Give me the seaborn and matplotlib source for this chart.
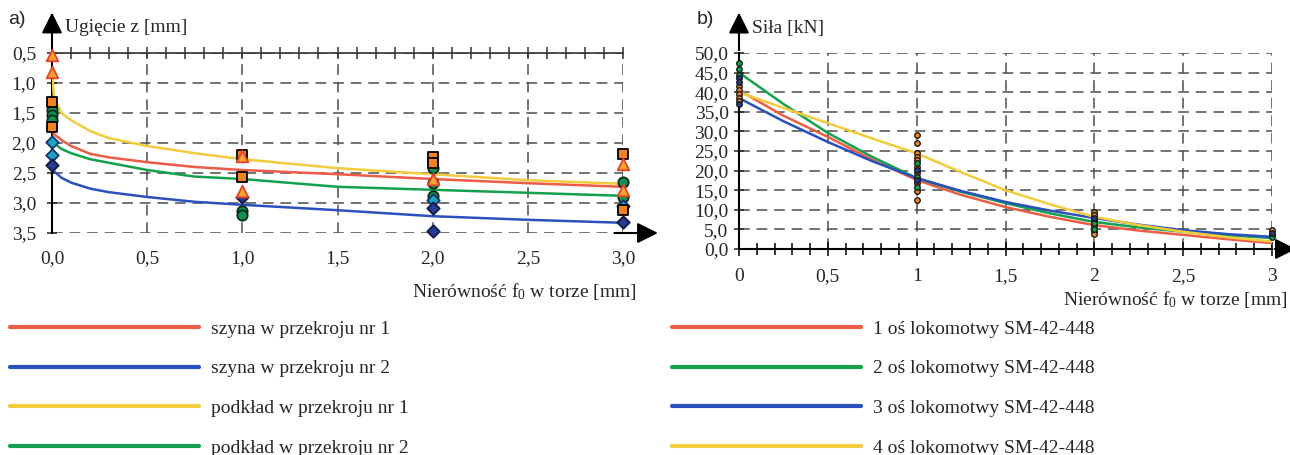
import matplotlib.pyplot as plt
import pandas as pd
import seaborn as sns
from matplotlib.ticker import FixedLocator, MultipleLocator

# a) ugięcie z [mm] w funkcji nierówności f0 [mm]
x_a = [0, 0.01, 0.05, 0.1, 0.2, 0.3, 0.5, 0.75, 1.0, 1.5, 2.0, 2.5, 3.0]
szyna_1 = [1.78, 1.85, 1.95, 2.05, 2.18, 2.24, 2.32, 2.40, 2.45, 2.52, 2.60, 2.67, 2.73]
szyna_2 = [2.40, 2.47, 2.58, 2.66, 2.76, 2.82, 2.90, 2.98, 3.03, 3.12, 3.22, 3.28, 3.33]
podklad_1 = [0.75, 1.25, 1.50, 1.62, 1.80, 1.92, 2.05, 2.17, 2.27, 2.42, 2.52, 2.62, 2.68]
podklad_2 = [1.92, 2.00, 2.10, 2.17, 2.27, 2.33, 2.45, 2.56, 2.60, 2.73, 2.78, 2.83, 2.88]
labels_a = ["szyna w przekroju nr 1", "szyna w przekroju nr 2",
            "podkład w przekroju nr 1", "podkład w przekroju nr 2"]

# punkty pomiarowe a)
kwadrat_x = [0, 0, 1, 1, 2, 2, 3, 3]
kwadrat_y = [1.32, 1.73, 2.20, 2.57, 2.23, 2.33, 2.18, 3.12]
trojkat_x = [0, 0, 1, 1, 2, 3, 3]
trojkat_y = [0.53, 0.82, 2.22, 2.80, 2.60, 2.35, 2.78]
kolo_x = [0, 0, 0, 1, 1, 2, 2, 2, 3, 3]
kolo_y = [1.45, 1.53, 1.62, 3.13, 3.20, 2.42, 2.66, 2.88, 2.65, 2.90]
romb_x = [0, 0, 2, 3]
romb_y = [1.98, 2.20, 2.95, 3.05]
romb_ciemny_x = [0, 1, 2, 2, 3]
romb_ciemny_y = [2.37, 2.90, 3.08, 3.47, 3.32]

xticks_a = [0, 0.5, 1.0, 1.5, 2.0, 2.5, 3.0]
xticklabels_a = ["0,0", "0,5", "1,0", "1,5", "2,0", "2,5", "3,0"]
yticks_a = [0.5, 1.0, 1.5, 2.0, 2.5, 3.0, 3.5]
yticklabels_a = ["0,5", "1,0", "1,5", "2,0", "2,5", "3,0", "3,5"]

# b) siła [kN] w funkcji nierówności f0 [mm]
x_b = [0, 0.25, 0.5, 0.75, 1.0, 1.25, 1.5, 1.75, 2.0, 2.25, 2.5, 2.75, 3.0]
os_1 = [40.5, 34.0, 28.6, 22.8, 17.6, 13.8, 10.7, 8.2, 6.1, 4.7, 3.6, 2.5, 1.5]
os_2 = [45.0, 37.0, 29.6, 23.5, 18.1, 14.6, 11.7, 9.1, 6.9, 5.5, 4.4, 3.5, 2.8]
os_3 = [38.5, 32.6, 27.3, 22.4, 18.1, 14.8, 12.0, 9.8, 7.9, 6.2, 4.8, 3.8, 3.1]
os_4 = [40.0, 36.0, 32.1, 28.2, 24.4, 19.6, 15.0, 11.4, 8.2, 6.1, 4.4, 3.0, 1.9]
labels_b = ["1 oś lokomotwy SM-42-448", "2 oś lokomotwy SM-42-448",
            "3 oś lokomotwy SM-42-448", "4 oś lokomotwy SM-42-448"]

# punkty pomiarowe b)
pom_pom_x = [0, 0, 0, 0, 0, 1, 1, 1, 1, 1, 1, 1, 1, 1, 1, 2, 2, 2, 2, 2, 2, 3, 3]
pom_pom_y = [41.5, 40.5, 39.5, 38.5, 37.8, 29.1, 27.0, 24.5, 23.5, 22.7, 21.0, 19.4, 16.8, 14.8, 12.5,
             9.5, 8.7, 7.3, 5.9, 4.5, 3.8, 4.8, 3.6]
pom_ziel_x = [0, 0, 0, 1, 1, 1, 2, 2, 3]
pom_ziel_y = [47.5, 46.0, 44.5, 21.9, 18.4, 15.8, 6.6, 5.2, 3.0]
pom_gran_x = [0, 0, 0, 1, 1, 2, 3]
pom_gran_y = [43.5, 42.5, 37.0, 20.2, 17.6, 8.0, 4.2]

xticks_b = [0, 0.5, 1, 1.5, 2, 2.5, 3]
xticklabels_b = ["0", "0,5", "1", "1,5", "2", "2,5", "3"]
yticks_b = [0, 5, 10, 15, 20, 25, 30, 35, 40, 45, 50]
yticklabels_b = ["0,0", "5,0", "10,0", "15,0", "20,0", "25,0", "30,0", "35,0", "40,0", "45,0", "50,0"]

RED, BLUE, YEL, GRN = "#EE5C46", "#2A50BE", "#F2CC3C", "#14A04C"

sns.set_style("white")
plt.rcParams["font.family"] = ["Liberation Serif", "DejaVu Serif"]
plt.rcParams["mathtext.fontset"] = "custom"
plt.rcParams["mathtext.rm"] = "Liberation Serif"
plt.rcParams["mathtext.it"] = "Liberation Serif:italic"

fig = plt.figure(figsize=(12.9, 4.55), dpi=100)
ax_a = fig.add_axes([52 / 1290, 1 - 233 / 455, 571 / 1290, 180 / 455])
ax_b = fig.add_axes([739 / 1290, 1 - 249 / 455, 533 / 1290, 196 / 455])

grid_kw = dict(color="#4d4d4d", lw=1.1, ls=(0, (7, 4.5)))
arrow_kw = dict(arrowstyle="-|>,head_length=0.9,head_width=0.45", color="black", lw=1.5, mutation_scale=14)

# ---------- a) ----------
df_a = pd.DataFrame({
    "x": x_a * 4,
    "z": szyna_1 + szyna_2 + podklad_1 + podklad_2,
    "seria": [lab for lab in labels_a for _ in x_a],
})
sns.lineplot(data=df_a, x="x", y="z", hue="seria", hue_order=labels_a,
             palette=[RED, BLUE, YEL, GRN], lw=1.8, ax=ax_a, zorder=3)

for xs, ys, mk, fc, ec, s in [
    (kolo_x, kolo_y, "o", "#129052", "#0a2a18", 55),
    (romb_x, romb_y, "D", "#1FA3C4", "#14326a", 40),
    (romb_ciemny_x, romb_ciemny_y, "D", "#2A3A8C", "#111a44", 40),
    (kwadrat_x, kwadrat_y, "s", "#F28322", "black", 60),
    (trojkat_x, trojkat_y, "^", "#F7A234", "#E4432A", 70),
]:
    sns.scatterplot(x=xs, y=ys, marker=mk, color=fc, edgecolor=ec, linewidth=1.3,
                    s=s, ax=ax_a, zorder=5, clip_on=False)

leg = ax_a.get_legend()
h_a, l_a = leg.legend_handles, [t.get_text() for t in leg.texts]
leg.remove()

ax_a.set_xlim(0, 3)
ax_a.set_ylim(3.5, 0.5)
ax_a.xaxis.set_major_locator(FixedLocator(xticks_a))
ax_a.set_xticklabels(xticklabels_a)
ax_a.xaxis.set_minor_locator(MultipleLocator(0.1))
ax_a.yaxis.set_major_locator(FixedLocator(yticks_a))
ax_a.set_yticklabels(yticklabels_a)
ax_a.grid(True, which="major", **grid_kw)
ax_a.tick_params(axis="x", which="both", top=True, bottom=False, labeltop=False,
                 labelbottom=True, direction="inout", color="#333333", width=1.1, pad=8, labelsize=14)
ax_a.tick_params(axis="x", which="major", length=9)
ax_a.tick_params(axis="x", which="minor", length=8)
ax_a.tick_params(axis="y", left=True, direction="inout", length=7, width=1.1, pad=8, labelsize=14)
for side in ["right", "bottom"]:
    ax_a.spines[side].set_visible(False)
ax_a.spines["top"].set_color("#333333")
ax_a.spines["top"].set_linewidth(1.2)
ax_a.spines["left"].set_color("black")
ax_a.spines["left"].set_linewidth(1.5)
ax_a.set_xlabel("")
ax_a.set_ylabel("")
ax_a.annotate("", xy=(0, 1.24), xytext=(0, 1.0), xycoords="axes fraction", arrowprops=arrow_kw)
ax_a.annotate("", xy=(1.066, 0), xytext=(0.98, 0), xycoords="axes fraction", arrowprops=arrow_kw)

# ---------- b) ----------
df_b = pd.DataFrame({
    "x": x_b * 4,
    "F": os_1 + os_2 + os_3 + os_4,
    "seria": [lab for lab in labels_b for _ in x_b],
})
sns.lineplot(data=df_b, x="x", y="F", hue="seria", hue_order=labels_b,
             palette=[RED, GRN, BLUE, YEL], lw=1.8, ax=ax_b, zorder=3)

for xs, ys, fc in [
    (pom_pom_x, pom_pom_y, "#E8842A"),
    (pom_ziel_x, pom_ziel_y, "#14A04C"),
    (pom_gran_x, pom_gran_y, "#243C8C"),
]:
    sns.scatterplot(x=xs, y=ys, marker="o", color=fc, edgecolor="#111111", linewidth=0.9,
                    s=16, ax=ax_b, zorder=5, clip_on=False)

leg = ax_b.get_legend()
h_b, l_b = leg.legend_handles, [t.get_text() for t in leg.texts]
leg.remove()

ax_b.set_xlim(0, 3)
ax_b.set_ylim(0, 50)
ax_b.xaxis.set_major_locator(FixedLocator(xticks_b))
ax_b.set_xticklabels(xticklabels_b)
ax_b.xaxis.set_minor_locator(MultipleLocator(0.1))
ax_b.yaxis.set_major_locator(FixedLocator(yticks_b))
ax_b.set_yticklabels(yticklabels_b)
ax_b.grid(True, which="major", **grid_kw)
ax_b.tick_params(axis="x", which="both", bottom=True, direction="inout", color="black",
                 width=1.1, pad=9, labelsize=14)
ax_b.tick_params(axis="x", which="major", length=10)
ax_b.tick_params(axis="x", which="minor", length=8)
ax_b.tick_params(axis="y", left=True, direction="inout", length=7, width=1.1, pad=4, labelsize=14)
for side in ["right", "top"]:
    ax_b.spines[side].set_visible(False)
for side in ["left", "bottom"]:
    ax_b.spines[side].set_color("black")
    ax_b.spines[side].set_linewidth(1.5)
ax_b.set_xlabel("")
ax_b.set_ylabel("")
ax_b.annotate("", xy=(0, 1.22), xytext=(0, 1.0), xycoords="axes fraction", arrowprops=arrow_kw)
ax_b.annotate("", xy=(1.05, 0), xytext=(1.0, 0), xycoords="axes fraction", arrowprops=arrow_kw)

# ---------- opisy ----------
fig.text(8 / 1290, 1 - 20 / 455, "a)", family="Liberation Sans", fontsize=14, va="center")
fig.text(697 / 1290, 1 - 20 / 455, "b)", family="Liberation Sans", fontsize=14, va="center")
fig.text(65 / 1290, 1 - 28 / 455, "Ugięcie z [mm]", fontsize=14, va="center")
fig.text(752 / 1290, 1 - 28 / 455, "Siła [kN]", fontsize=14, va="center")
fig.text(637 / 1290, 1 - 292 / 455, r"Nierówność f$_\mathrm{0}$ w torze [mm]", fontsize=14,
         ha="right", va="center")
fig.text(1288 / 1290, 1 - 300 / 455, r"Nierówność f$_\mathrm{0}$ w torze [mm]", fontsize=14,
         ha="right", va="center")

leg_kw = dict(loc="upper left", frameon=False, fontsize=14, handlelength=9.7,
              handletextpad=0.62, labelspacing=1.14, borderpad=0, borderaxespad=0)
la = fig.legend(h_a, l_a, bbox_to_anchor=(10 / 1290, 1 - 320 / 455), **leg_kw)
lb = fig.legend(h_b, l_b, bbox_to_anchor=(672 / 1290, 1 - 320 / 455), **leg_kw)
for lg in (la, lb):
    for line in lg.get_lines():
        line.set_linewidth(3)

fig.savefig("out.png", dpi=100)
